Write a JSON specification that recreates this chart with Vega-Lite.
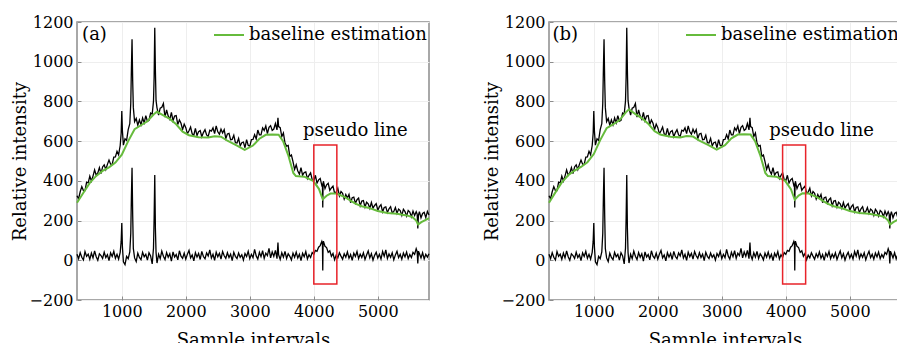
{
  "$schema": "https://vega.github.io/schema/vega-lite/v6.json",
  "padding": {"left": 10, "top": 13, "right": 0, "bottom": 0},
  "background": "white",
  "datasets": {
    "spec": [
{"x":300,"r":325,"c":30},{"x":325,"r":310,"c":8},{"x":350,"r":345,"c":38},{"x":375,"r":371,"c":15},{"x":400,"r":351,"c":2},{"x":425,"r":351,"c":44},{"x":450,"r":393,"c":20},{"x":475,"r":390,"c":31},{"x":500,"r":424,"c":5},{"x":525,"r":399,"c":36},{"x":550,"r":424,"c":12},{"x":575,"r":455,"c":47},{"x":600,"r":428,"c":18},{"x":625,"r":440,"c":0},{"x":650,"r":467,"c":33},{"x":675,"r":436,"c":24},{"x":700,"r":470,"c":9},{"x":725,"r":481,"c":41},{"x":750,"r":457,"c":14},{"x":775,"r":483,"c":28},{"x":800,"r":505,"c":-2},{"x":825,"r":484,"c":37},{"x":850,"r":483,"c":19},{"x":875,"r":520,"c":45},{"x":900,"r":521,"c":10},{"x":925,"r":549,"c":30},{"x":950,"r":531,"c":6},{"x":975,"r":578,"c":40},{"x":990,"r":640,"c":95},{"x":1000,"r":752,"c":188},{"x":1010,"r":650,"c":65},{"x":1025,"r":580,"c":-8},{"x":1050,"r":612,"c":-22},{"x":1075,"r":604,"c":20},{"x":1100,"r":658,"c":8},{"x":1125,"r":688,"c":42},{"x":1140,"r":790,"c":135},{"x":1150,"r":965,"c":320},{"x":1160,"r":1113,"c":466},{"x":1170,"r":905,"c":230},{"x":1180,"r":770,"c":60},{"x":1200,"r":698,"c":12},{"x":1225,"r":714,"c":-6},{"x":1250,"r":680,"c":36},{"x":1275,"r":707,"c":14},{"x":1300,"r":682,"c":3},{"x":1325,"r":717,"c":40},{"x":1350,"r":692,"c":18},{"x":1375,"r":728,"c":30},{"x":1400,"r":700,"c":1},{"x":1425,"r":705,"c":38},{"x":1450,"r":741,"c":22},{"x":1475,"r":736,"c":-18},{"x":1495,"r":800,"c":60},{"x":1505,"r":920,"c":210},{"x":1515,"r":1171,"c":430},{"x":1525,"r":955,"c":160},{"x":1535,"r":805,"c":40},{"x":1550,"r":768,"c":-14},{"x":1575,"r":731,"c":30},{"x":1600,"r":766,"c":8},{"x":1625,"r":771,"c":46},{"x":1650,"r":790,"c":20},{"x":1675,"r":721,"c":4},{"x":1700,"r":757,"c":39},{"x":1725,"r":726,"c":15},{"x":1750,"r":710,"c":33},{"x":1775,"r":745,"c":-4},{"x":1800,"r":703,"c":42},{"x":1825,"r":726,"c":17},{"x":1850,"r":729,"c":29},{"x":1875,"r":683,"c":2},{"x":1900,"r":707,"c":48},{"x":1925,"r":690,"c":21},{"x":1950,"r":658,"c":10},{"x":1975,"r":686,"c":36},{"x":2000,"r":668,"c":6},{"x":2025,"r":637,"c":31},{"x":2050,"r":652,"c":50},{"x":2075,"r":671,"c":12},{"x":2100,"r":637,"c":27},{"x":2125,"r":630,"c":-3},{"x":2150,"r":664,"c":38},{"x":2175,"r":628,"c":16},{"x":2200,"r":648,"c":34},{"x":2225,"r":653,"c":4},{"x":2250,"r":622,"c":45},{"x":2275,"r":643,"c":19},{"x":2300,"r":658,"c":8},{"x":2325,"r":631,"c":37},{"x":2350,"r":624,"c":22},{"x":2375,"r":655,"c":52},{"x":2400,"r":651,"c":11},{"x":2425,"r":667,"c":30},{"x":2450,"r":638,"c":0},{"x":2475,"r":677,"c":41},{"x":2500,"r":647,"c":18},{"x":2525,"r":635,"c":35},{"x":2550,"r":660,"c":6},{"x":2575,"r":641,"c":44},{"x":2600,"r":658,"c":23},{"x":2625,"r":613,"c":10},{"x":2650,"r":636,"c":38},{"x":2675,"r":639,"c":14},{"x":2700,"r":607,"c":31},{"x":2725,"r":609,"c":-2},{"x":2750,"r":630,"c":40},{"x":2775,"r":592,"c":20},{"x":2800,"r":591,"c":9},{"x":2825,"r":614,"c":36},{"x":2850,"r":576,"c":15},{"x":2875,"r":592,"c":28},{"x":2900,"r":595,"c":1},{"x":2925,"r":567,"c":34},{"x":2950,"r":608,"c":19},{"x":2975,"r":579,"c":45},{"x":3000,"r":574,"c":8},{"x":3025,"r":608,"c":30},{"x":3050,"r":609,"c":13},{"x":3075,"r":633,"c":55},{"x":3100,"r":611,"c":22},{"x":3125,"r":656,"c":6},{"x":3150,"r":632,"c":40},{"x":3175,"r":632,"c":18},{"x":3200,"r":667,"c":48},{"x":3225,"r":654,"c":10},{"x":3250,"r":677,"c":36},{"x":3275,"r":638,"c":24},{"x":3300,"r":669,"c":60},{"x":3325,"r":678,"c":12},{"x":3350,"r":654,"c":42},{"x":3375,"r":661,"c":20},{"x":3400,"r":689,"c":50},{"x":3425,"r":657,"c":8},{"x":3440,"r":718,"c":90},{"x":3450,"r":673,"c":28},{"x":3475,"r":668,"c":4},{"x":3500,"r":623,"c":38},{"x":3525,"r":641,"c":16},{"x":3550,"r":590,"c":45},{"x":3575,"r":575,"c":9},{"x":3600,"r":578,"c":33},{"x":3625,"r":523,"c":20},{"x":3650,"r":530,"c":2},{"x":3675,"r":497,"c":36},{"x":3700,"r":458,"c":15},{"x":3725,"r":481,"c":41},{"x":3750,"r":450,"c":11},{"x":3775,"r":434,"c":30},{"x":3800,"r":466,"c":-1},{"x":3825,"r":428,"c":35},{"x":3850,"r":442,"c":18},{"x":3875,"r":445,"c":44},{"x":3900,"r":411,"c":7},{"x":3925,"r":428,"c":28},{"x":3950,"r":440,"c":14},{"x":3975,"r":406,"c":39},{"x":4000,"r":401,"c":30},{"x":4025,"r":428,"c":50},{"x":4050,"r":389,"c":45},{"x":4075,"r":405,"c":66},{"x":4100,"r":412,"c":74},{"x":4125,"r":377,"c":95},{"x":4135,"r":382,"c":80},{"x":4140,"r":266,"c":-52},{"x":4145,"r":388,"c":86},{"x":4150,"r":398,"c":96},{"x":4175,"r":361,"c":70},{"x":4200,"r":380,"c":64},{"x":4225,"r":388,"c":40},{"x":4250,"r":352,"c":48},{"x":4275,"r":364,"c":20},{"x":4300,"r":373,"c":34},{"x":4325,"r":338,"c":3},{"x":4350,"r":344,"c":26},{"x":4375,"r":363,"c":12},{"x":4400,"r":324,"c":38},{"x":4425,"r":346,"c":21},{"x":4450,"r":337,"c":5},{"x":4475,"r":308,"c":33},{"x":4500,"r":331,"c":16},{"x":4525,"r":314,"c":42},{"x":4550,"r":332,"c":10},{"x":4575,"r":290,"c":29},{"x":4600,"r":315,"c":0},{"x":4625,"r":318,"c":36},{"x":4650,"r":287,"c":19},{"x":4675,"r":305,"c":44},{"x":4700,"r":313,"c":8},{"x":4725,"r":274,"c":31},{"x":4750,"r":298,"c":14},{"x":4775,"r":301,"c":38},{"x":4800,"r":268,"c":4},{"x":4825,"r":292,"c":27},{"x":4850,"r":284,"c":47},{"x":4875,"r":262,"c":12},{"x":4900,"r":291,"c":33},{"x":4925,"r":263,"c":1},{"x":4950,"r":276,"c":25},{"x":4975,"r":285,"c":40},{"x":5000,"r":252,"c":11},{"x":5025,"r":270,"c":30},{"x":5050,"r":280,"c":6},{"x":5075,"r":244,"c":44},{"x":5100,"r":266,"c":20},{"x":5125,"r":269,"c":52},{"x":5150,"r":240,"c":9},{"x":5175,"r":259,"c":32},{"x":5200,"r":270,"c":15},{"x":5225,"r":238,"c":38},{"x":5250,"r":246,"c":2},{"x":5275,"r":266,"c":27},{"x":5300,"r":236,"c":45},{"x":5325,"r":258,"c":13},{"x":5350,"r":250,"c":30},{"x":5375,"r":226,"c":5},{"x":5400,"r":257,"c":36},{"x":5425,"r":245,"c":17},{"x":5450,"r":222,"c":41},{"x":5475,"r":251,"c":8},{"x":5500,"r":243,"c":29},{"x":5525,"r":219,"c":14},{"x":5550,"r":248,"c":40},{"x":5575,"r":226,"c":30},{"x":5600,"r":245,"c":58},{"x":5615,"r":233,"c":44},{"x":5625,"r":160,"c":-16},{"x":5635,"r":226,"c":46},{"x":5650,"r":245,"c":34},{"x":5675,"r":214,"c":12},{"x":5700,"r":236,"c":38},{"x":5725,"r":242,"c":7},{"x":5750,"r":215,"c":30},{"x":5775,"r":246,"c":16},{"x":5800,"r":228,"c":33}
    ],
    "baseA": [
{"x":300,"v":290},{"x":400,"v":340},{"x":500,"v":390},{"x":600,"v":425},{"x":700,"v":450},{"x":800,"v":468},{"x":900,"v":492},{"x":1000,"v":532},{"x":1100,"v":600},{"x":1200,"v":660},{"x":1300,"v":680},{"x":1400,"v":700},{"x":1500,"v":735},{"x":1550,"v":748},{"x":1650,"v":730},{"x":1750,"v":712},{"x":1850,"v":685},{"x":1950,"v":648},{"x":2050,"v":630},{"x":2200,"v":620},{"x":2350,"v":618},{"x":2450,"v":625},{"x":2550,"v":622},{"x":2650,"v":602},{"x":2800,"v":578},{"x":2920,"v":556},{"x":3050,"v":578},{"x":3150,"v":612},{"x":3250,"v":632},{"x":3350,"v":634},{"x":3450,"v":632},{"x":3520,"v":600},{"x":3600,"v":530},{"x":3680,"v":440},{"x":3720,"v":424},{"x":3850,"v":421},{"x":3990,"v":400},{"x":4080,"v":360},{"x":4140,"v":307},{"x":4200,"v":325},{"x":4260,"v":336},{"x":4360,"v":336},{"x":4500,"v":316},{"x":4650,"v":285},{"x":4750,"v":272},{"x":4850,"v":265},{"x":5000,"v":248},{"x":5150,"v":238},{"x":5300,"v":234},{"x":5450,"v":226},{"x":5540,"v":218},{"x":5600,"v":200},{"x":5630,"v":180},{"x":5680,"v":192},{"x":5750,"v":204},{"x":5800,"v":212}
    ],
    "baseB": [
{"x":300,"v":290},{"x":400,"v":342},{"x":500,"v":392},{"x":600,"v":428},{"x":700,"v":452},{"x":800,"v":470},{"x":900,"v":494},{"x":1000,"v":535},{"x":1100,"v":605},{"x":1200,"v":665},{"x":1300,"v":684},{"x":1400,"v":705},{"x":1500,"v":745},{"x":1550,"v":760},{"x":1650,"v":736},{"x":1750,"v":716},{"x":1850,"v":688},{"x":1950,"v":650},{"x":2050,"v":632},{"x":2200,"v":622},{"x":2350,"v":619},{"x":2450,"v":626},{"x":2550,"v":623},{"x":2650,"v":603},{"x":2800,"v":579},{"x":2920,"v":557},{"x":3050,"v":580},{"x":3150,"v":614},{"x":3250,"v":633},{"x":3350,"v":635},{"x":3450,"v":633},{"x":3520,"v":600},{"x":3600,"v":530},{"x":3680,"v":440},{"x":3720,"v":424},{"x":3850,"v":421},{"x":3990,"v":400},{"x":4080,"v":358},{"x":4140,"v":305},{"x":4200,"v":326},{"x":4260,"v":337},{"x":4360,"v":336},{"x":4500,"v":316},{"x":4650,"v":285},{"x":4750,"v":272},{"x":4850,"v":265},{"x":5000,"v":248},{"x":5150,"v":238},{"x":5300,"v":234},{"x":5450,"v":226},{"x":5540,"v":218},{"x":5600,"v":200},{"x":5630,"v":180},{"x":5680,"v":192},{"x":5750,"v":204},{"x":5800,"v":212}
    ]
  },
  "resolve": {"scale": {"color": "independent"}, "legend": {"color": "independent"}},
  "hconcat": [
    {
      "width": 352,
      "height": 278,
      "encoding": {
        "x": {"field": "x", "type": "quantitative", "scale": {"domain": [300, 5800], "nice": false, "zero": false}, "axis": {"title": "Sample intervals", "values": [1000, 2000, 3000, 4000, 5000], "format": "d", "labelOverlap": false, "labelPadding": 7, "titlePadding": 12, "labelFlush": false}},
        "y": {"field": "v", "type": "quantitative", "scale": {"domain": [-200, 1200], "nice": false}, "axis": {"title": "Relative intensity", "values": [-200, 0, 200, 400, 600, 800, 1000, 1200], "format": "d", "labelOverlap": false, "labelPadding": 8, "titlePadding": 0, "labelFlush": false}}
      },
      "layer": [
        {
          "data": {"name": "spec"},
          "transform": [{"fold": ["r"], "as": ["k", "v"]}],
          "mark": {"type": "line", "color": "#000000", "strokeWidth": 1.3}
        },
        {
          "data": {"name": "spec"},
          "transform": [{"fold": ["c"], "as": ["k", "v"]}],
          "mark": {"type": "line", "color": "#000000", "strokeWidth": 1.3}
        },
        {
          "data": {"name": "baseA"},
          "mark": {"type": "line", "strokeWidth": 2},
          "encoding": {
            "color": {"datum": "baseline estimation", "type": "nominal", "scale": {"domain": ["baseline estimation"], "range": ["#66bb3c"]}, "legend": {"orient": "top-right", "title": null}}
          }
        },
        {
          "data": {"values": [{"x": 4000, "x2": 4360, "v": 580, "v2": -120}]},
          "mark": {"type": "rect", "fill": null, "fillOpacity": 0, "stroke": "#e8232a", "strokeWidth": 1.5},
          "encoding": {
            "x2": {"field": "x2"},
            "y2": {"field": "v2"}
          }
        },
        {
          "data": {"values": [{"x": 3830, "v": 626, "t": "pseudo line"}, {"x": 380, "v": 1110, "t": "(a)"}]},
          "mark": {"type": "text", "align": "left", "baseline": "alphabetic", "font": "DejaVu Serif", "fontSize": 18, "color": "#000000"},
          "encoding": {
            "text": {"field": "t"}
          }
        }
      ]
    },
    {
      "width": 352,
      "height": 278,
      "encoding": {
        "x": {"field": "x", "type": "quantitative", "scale": {"domain": [300, 5800], "nice": false, "zero": false}, "axis": {"title": "Sample intervals", "values": [1000, 2000, 3000, 4000, 5000], "format": "d", "labelOverlap": false, "labelPadding": 7, "titlePadding": 12, "labelFlush": false}},
        "y": {"field": "v", "type": "quantitative", "scale": {"domain": [-200, 1200], "nice": false}, "axis": {"title": "Relative intensity", "values": [-200, 0, 200, 400, 600, 800, 1000, 1200], "format": "d", "labelOverlap": false, "labelPadding": 8, "titlePadding": 0, "labelFlush": false}}
      },
      "layer": [
        {
          "data": {"name": "spec"},
          "transform": [{"fold": ["r"], "as": ["k", "v"]}],
          "mark": {"type": "line", "color": "#000000", "strokeWidth": 1.3}
        },
        {
          "data": {"name": "spec"},
          "transform": [{"fold": ["c"], "as": ["k", "v"]}],
          "mark": {"type": "line", "color": "#000000", "strokeWidth": 1.3}
        },
        {
          "data": {"name": "baseB"},
          "mark": {"type": "line", "strokeWidth": 2},
          "encoding": {
            "color": {"datum": "baseline estimation", "type": "nominal", "scale": {"domain": ["baseline estimation"], "range": ["#66bb3c"]}, "legend": {"orient": "top-right", "title": null}}
          }
        },
        {
          "data": {"values": [{"x": 3950, "x2": 4310, "v": 580, "v2": -120}]},
          "mark": {"type": "rect", "fill": null, "fillOpacity": 0, "stroke": "#e8232a", "strokeWidth": 1.5},
          "encoding": {
            "x2": {"field": "x2"},
            "y2": {"field": "v2"}
          }
        },
        {
          "data": {"values": [{"x": 3740, "v": 626, "t": "pseudo line"}, {"x": 355, "v": 1110, "t": "(b)"}]},
          "mark": {"type": "text", "align": "left", "baseline": "alphabetic", "font": "DejaVu Serif", "fontSize": 18, "color": "#000000"},
          "encoding": {
            "text": {"field": "t"}
          }
        }
      ]
    }
  ],
  "config": {
    "font": "DejaVu Serif",
    "view": {"stroke": "#8c8c8c", "strokeWidth": 1.5},
    "concat": {"spacing": 48},
    "axis": {
      "labelFont": "DejaVu Serif",
      "labelFontSize": 16,
      "labelColor": "#000000",
      "labelOverlap": false,
      "titleFont": "DejaVu Serif",
      "titleFontSize": 18,
      "titleFontWeight": "normal",
      "titleColor": "#000000",
      "domain": false,
      "gridColor": "#eeeeee",
      "tickColor": "#8c8c8c",
      "tickSize": -4
    },
    "legend": {
      "labelFont": "DejaVu Serif",
      "labelFontSize": 18,
      "labelColor": "#000000",
      "symbolType": "M-1.5,0L1.5,0",
      "symbolSize": 400,
      "symbolStrokeWidth": 2,
      "labelOffset": 9,
      "labelLimit": 400,
      "padding": 0,
      "offset": 2
    }
  }
}
